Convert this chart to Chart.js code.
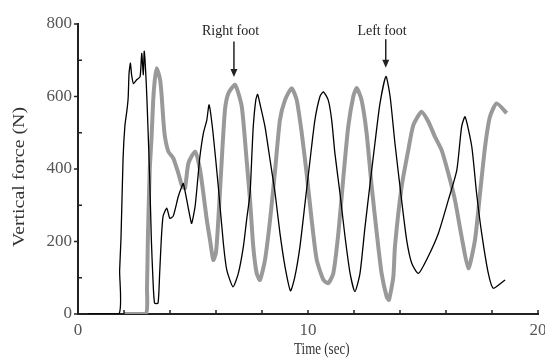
<!DOCTYPE html>
<html>
<head>
<meta charset="utf-8">
<script src="https://cdn.jsdelivr.net/npm/chart.js@4.4.1/dist/chart.umd.min.js"></script>
<style>
  html, body { margin: 0; padding: 0; background: #fff; }
  #wrap { width: 545px; height: 358px; }
</style>
</head>
<body>
<div id="wrap"><canvas id="forceChart" width="545" height="358"></canvas></div>
<script>
// black trace (thin line)
const blackTime = [0.43, 1.78, 1.81, 1.87, 1.96, 2.04, 2.13, 2.18, 2.22, 2.28, 2.33, 2.41, 2.55, 2.70, 2.77, 2.84, 2.88, 2.97,
  3.04, 3.12, 3.19, 3.26, 3.33, 3.48, 3.55, 3.62, 3.70, 3.86, 3.99, 4.14, 4.36, 4.51, 4.58, 4.73, 4.87, 4.94, 5.09, 5.23,
  5.30, 5.45, 5.60, 5.70, 5.87, 6.10, 6.32, 6.47, 6.74, 6.97, 7.19, 7.33, 7.48, 7.55, 7.62, 7.73, 7.81, 7.91, 8.13, 8.35,
  8.57, 8.78, 9.00, 9.24, 9.43, 9.65, 9.87, 10.09, 10.30, 10.52, 10.67, 10.88, 11.03, 11.17, 11.39, 11.61, 11.83, 12.04,
  12.26, 12.48, 12.70, 12.91, 13.13, 13.39, 13.57, 13.78, 14.07, 14.29, 14.51, 14.80, 15.22, 15.67, 16.10, 16.47, 16.68,
  16.83, 17.12, 17.33, 17.55, 17.84, 18.06, 18.57];
const blackForce = [0, 0, 120, 210, 430, 520, 563, 595, 664, 692, 660, 636, 646, 655, 719, 660, 725, 634,
  517, 370, 204, 94, 30, 30, 112, 204, 270, 292, 264, 270, 324, 351, 360, 314, 268, 250, 296, 388,
  434, 498, 535, 577, 500, 351, 195, 121, 75, 112, 186, 259, 333, 425, 517, 590, 606, 580, 517, 425,
  333, 223, 131, 64, 103, 186, 305, 425, 535, 600, 613, 590, 535, 443, 333, 213, 112, 62,
  112, 241, 360, 471, 581, 655, 600, 471, 314, 204, 140, 112, 158, 223, 314, 397, 517,
  544, 462, 333, 223, 112, 71, 94];

// gray trace (thick line)
const grayTime = [2.0, 2.95, 3.00, 3.04, 3.12, 3.20, 3.27, 3.34, 3.42, 3.57, 3.64, 3.71, 3.78, 3.93, 4.14, 4.36, 4.51,
  4.65, 4.80, 5.09, 5.30, 5.45, 5.60, 5.74, 5.88, 6.00, 6.10, 6.25, 6.39, 6.54, 6.83, 7.12, 7.33, 7.48, 7.62, 7.77,
  7.91, 8.13, 8.35, 8.57, 8.78, 9.00, 9.29, 9.51, 9.73, 9.94, 10.16, 10.38, 10.67, 10.88, 11.10, 11.32, 11.54, 11.75,
  11.97, 12.12, 12.33, 12.55, 12.77, 12.99, 13.20, 13.42, 13.52, 13.71, 13.78, 14.07, 14.36, 14.58, 14.94, 15.23,
  15.52, 15.81, 16.10, 16.39, 16.68, 16.97, 17.26, 17.48, 17.70, 17.91, 18.20, 18.64];
const grayForce = [0, 0, 71, 213, 400, 489, 590, 646, 678, 646, 600, 535, 489, 448, 430, 389, 356,
  347, 416, 448, 400, 333, 259, 204, 149, 170, 259, 425, 563, 609, 632, 572, 425, 314, 186, 112,
  94, 149, 259, 397, 535, 590, 623, 590, 498, 388, 259, 149, 94, 85, 112, 223, 379, 517,
  600, 623, 590, 498, 351, 223, 112, 48, 39, 103, 186, 351, 452, 521, 558, 531,
  489, 452, 388, 314, 213, 126, 204, 333, 462, 544, 581, 554];

const yTickLabels = [0, 200, 400, 600, 800];
const xTickLabels = [0, 10, 20];

const notes = [
  { text: 'Right foot', textX: 6.63, textY: 780, arrowX: 6.78, arrowTop: 752, arrowTip: 654 },
  { text: 'Left foot', textX: 13.22, textY: 780, arrowX: 13.38, arrowTop: 758, arrowTip: 679 }
];

const toPoints = (xs, ys) => xs.map((t, i) => ({ x: t, y: ys[i] }));

const serif = '"Liberation Serif", "Times New Roman", serif';

const overlay = {
  id: 'overlay',
  afterDraw(chart) {
    const { ctx, chartArea, scales: { x, y } } = chart;
    ctx.save();
    // tick marks
    ctx.strokeStyle = '#222';
    ctx.lineWidth = 1.5;
    x.ticks.forEach(t => {
      const px = x.getPixelForValue(t.value);
      ctx.beginPath();
      ctx.moveTo(px, chartArea.bottom);
      ctx.lineTo(px, chartArea.bottom - 4);
      ctx.stroke();
    });
    y.ticks.forEach(t => {
      const py = y.getPixelForValue(t.value);
      const major = yTickLabels.includes(t.value);
      ctx.beginPath();
      ctx.moveTo(chartArea.left, py);
      ctx.lineTo(chartArea.left + (major ? -4 : 4), py);
      ctx.stroke();
    });

    // foot annotations
    ctx.fillStyle = '#222';
    ctx.font = '14px ' + serif;
    ctx.textAlign = 'center';
    ctx.textBaseline = 'middle';
    notes.forEach(n => {
      ctx.fillText(n.text, x.getPixelForValue(n.textX), y.getPixelForValue(n.textY));
      const ax = x.getPixelForValue(n.arrowX);
      const top = y.getPixelForValue(n.arrowTop);
      const tip = y.getPixelForValue(n.arrowTip);
      ctx.beginPath();
      ctx.moveTo(ax, top);
      ctx.lineTo(ax, tip - 4);
      ctx.stroke();
      ctx.beginPath();
      ctx.moveTo(ax, tip);
      ctx.lineTo(ax - 3.5, tip - 8);
      ctx.lineTo(ax + 3.5, tip - 8);
      ctx.closePath();
      ctx.fill();
    });

    // axis titles
    ctx.fillStyle = '#333';
    ctx.save();
    ctx.translate(x.getPixelForValue(10.6), 350);
    ctx.scale(1, 1.3);
    ctx.font = '13px ' + serif;
    ctx.fillText('Time (sec)', 0, 0);
    ctx.restore();

    ctx.save();
    ctx.translate(20, 177);
    ctx.rotate(-Math.PI / 2);
    ctx.font = '17px ' + serif;
    const w = ctx.measureText('Vertical force (N)').width;
    ctx.scale(140 / w, 1);
    ctx.fillText('Vertical force (N)', 0, 0);
    ctx.restore();

    ctx.restore();
  }
};

new Chart(document.getElementById('forceChart'), {
  type: 'line',
  data: {
    datasets: [
      {
        label: 'Left',
        data: toPoints(blackTime, blackForce),
        borderColor: '#000',
        borderWidth: 1.3,
        pointRadius: 0,
        tension: 0.2,
        order: 1
      },
      {
        label: 'Right',
        data: toPoints(grayTime, grayForce),
        borderColor: '#999',
        borderWidth: 4,
        pointRadius: 0,
        tension: 0.2,
        order: 2
      }
    ]
  },
  options: {
    responsive: false,
    animation: false,
    layout: { padding: { top: 24, right: 7, left: 0, bottom: 0 } },
    plugins: { legend: { display: false }, tooltip: { enabled: false } },
    scales: {
      x: {
        type: 'linear',
        min: 0,
        max: 20,
        afterFit: s => { s.height = 44; s.paddingRight = 7; s.paddingLeft = 0; },
        grid: { drawOnChartArea: false, drawTicks: false },
        border: { color: '#222', width: 2 },
        ticks: {
          stepSize: 2,
          padding: 6,
          color: '#555',
          font: { family: serif, size: 17 },
          maxRotation: 0,
          callback: v => xTickLabels.includes(v) ? v : ''
        }
      },
      y: {
        min: 0,
        max: 800,
        afterFit: s => { s.width = 78; },
        grid: { drawOnChartArea: false, drawTicks: false },
        border: { color: '#222', width: 2 },
        ticks: {
          stepSize: 100,
          padding: 6,
          color: '#555',
          font: { family: serif, size: 17 },
          callback: v => yTickLabels.includes(v) ? v : ''
        }
      }
    }
  },
  plugins: [overlay]
});
</script>
</body>
</html>
